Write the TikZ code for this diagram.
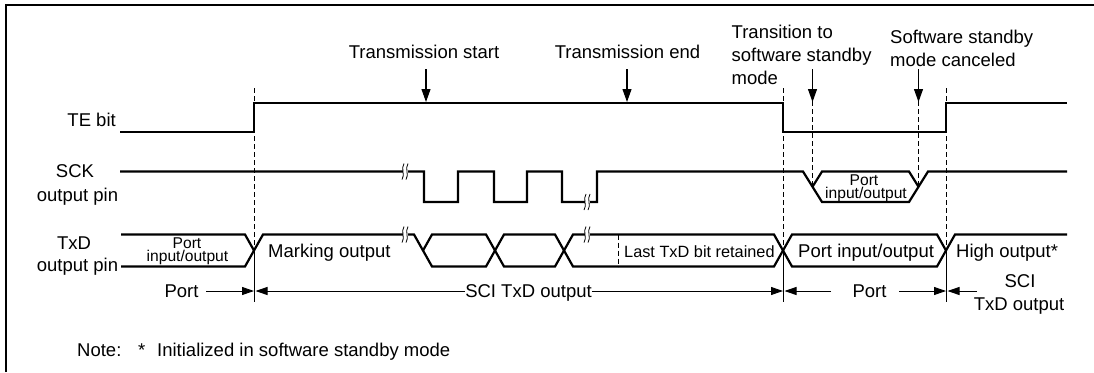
\documentclass[tikz,border=0pt]{standalone}
\usepackage{fontspec}
\setmainfont{Liberation Sans}
\usetikzlibrary{arrows.meta}
\newcommand\brkmark[2]{%
  \begin{scope}[shift={(#1,#2)}]
    \fill[white] (-2.5,-3) rectangle (2.5,3);
    \draw[line width=0.8pt] (-1,-8) .. controls (-4.5,-3) and (0.5,3) .. (-3,8);
    \draw[line width=0.8pt] (3,-8) .. controls (-0.5,-3) and (4.5,3) .. (1,8);
  \end{scope}}
\begin{document}
\begin{tikzpicture}[x=1pt,y=-1pt,
  wave/.style={line width=2.2pt, line join=miter},
  vdash/.style={line width=0.9pt, dash pattern=on 5pt off 3pt},
  vsolid/.style={line width=0.9pt},
  tarr/.style={line width=1.1pt, -{Triangle[length=13pt,width=9pt]}},
  barr/.style={line width=0.9pt, -{Triangle[length=12pt,width=8pt]}},
  big/.style={inner sep=0pt, font=\fontsize{18.5}{23}\selectfont},
  small/.style={inner sep=0pt, font=\fontsize{15.6}{12}\selectfont},
  mid/.style={inner sep=0pt, font=\fontsize{16.3}{20}\selectfont}]
\useasboundingbox (0,0) rectangle (1094,372);
% frame
\draw[line width=2pt] (6,372) -- (6,5) -- (1094,5);

% ---------- signal labels ----------
\node[big, anchor=base east] (te) at (116,126) {TE bit};
\node[big, anchor=base] (sck1) at (75,177) {SCK};
\node[big, anchor=base] (sck2) at (77.5,201) {output pin};
\node[big, anchor=base] (txd1) at (74,249) {TxD};
\node[big, anchor=base] (txd2) at (77.5,271) {output pin};

% ---------- TE bit ----------
\draw[wave] (120,132) -- (254,132) -- (254,103) -- (783,103) -- (783,132)
  -- (946,132) -- (946,103) -- (1067,103);

% ---------- SCK ----------
\draw[wave] (120,171.5) -- (424,171.5) -- (424,202) -- (458,202) -- (458,171.5)
  -- (494,171.5) -- (494,202) -- (527,202) -- (527,171.5) -- (562,171.5)
  -- (562,202) -- (597,202) -- (597,171.5) -- (803,171.5) -- (822,202)
  -- (909,202) -- (928,171.5) -- (1067,171.5);
\draw[wave] (812.5,186.75) -- (822,171.5) -- (909,171.5) -- (918.5,186.75);

% ---------- TxD ----------
\draw[wave] (121,266.5) -- (245,266.5) -- (263,234.5) -- (414,234.5) -- (432,266.5)
  -- (486,266.5) -- (504,234.5) -- (555,234.5) -- (573,266.5) -- (774,266.5)
  -- (792,234.5) -- (937,234.5) -- (946,250.5);
\draw[wave] (121,234.5) -- (245,234.5) -- (254,250.5);
\draw[wave] (423,250.5) -- (432,234.5) -- (486,234.5) -- (504,266.5) -- (555,266.5)
  -- (573,234.5) -- (774,234.5) -- (792,266.5) -- (937,266.5) -- (955,234.5)
  -- (1067,234.5);

% break marks
\brkmark{405}{171.5}
\brkmark{405}{234.5}
\brkmark{587}{202}
\brkmark{587}{234.5}

% ---------- vertical guide lines ----------
\coordinate (x1) at (254,250.5);
\coordinate (x2) at (783,250.5);
\coordinate (x3) at (946,250.5);
\coordinate (b1) at (254,302);
\coordinate (b2) at (783,302);
\coordinate (b3) at (946,302);
\draw[vdash] (254,88) -- (x1);
\draw[vdash] (783,88) -- (x2);
\draw[vdash] (946,88) -- (x3);
\draw[vsolid] (x1) -- (b1);
\draw[vsolid] (x2) -- (b2);
\draw[vsolid] (x3) -- (b3);
\draw[vdash] (812.5,101) -- (812.5,186.75);
\draw[vdash] (918.5,101) -- (918.5,186.75);
\draw[vdash] (618,234.5) -- (618,266.5);

% ---------- top event labels and arrows ----------
\node[big, anchor=base] (ts) at (424,58) {Transmission start};
\node[big, anchor=base] (tend) at (627.5,58) {Transmission end};
\node[big, anchor=base west] (tr1) at (731.5,38) {Transition to};
\node[big, anchor=base west] (tr2) at (731.5,61) {software standby};
\node[big, anchor=base west] (tr3) at (731.5,84) {mode};
\node[big, anchor=base west] (sc1) at (890,43) {Software standby};
\node[big, anchor=base west] (sc2) at (890,66) {mode canceled};
\coordinate (a1) at (426,102);
\coordinate (a2) at (627,102);
\coordinate (a3) at (812.5,102);
\coordinate (a4) at (918.5,102);
\draw[tarr] (426,69) -- (a1);
\draw[tarr] (627,69) -- (a2);
\draw[tarr] (812.5,69) -- (a3);
\draw[tarr] (918.5,69) -- (a4);

% ---------- texts inside waveforms ----------
\node[small, anchor=base] (pl1) at (187,248) {Port};
\node[small, anchor=base] (pl2) at (187.5,261.5) {input/output};
\node[big, anchor=base west] (mark) at (268,257) {Marking output};
\node[mid, anchor=base west] (last) at (624,257) {Last TxD bit retained};
\node[big, anchor=base west] (pio) at (798,257) {Port input/output};
\node[big, anchor=base west] (high) at (956,257) {High output*};
\node[small, anchor=base] (sp1) at (864,185) {Port};
\node[small, anchor=base] (sp2) at (866,198.5) {input/output};

% ---------- bottom spans ----------
\coordinate (r1) at (254,291);
\coordinate (r2) at (783,291);
\coordinate (r3) at (946,291);
\node[big, anchor=base] (port1) at (181.5,297) {Port};
\node[big, anchor=base] (sci) at (528.5,297) {SCI TxD output};
\node[big, anchor=base] (port2) at (869.5,297) {Port};
\node[big, anchor=base] (sci2a) at (1020,287) {SCI};
\node[big, anchor=base] (sci2b) at (1019,310) {TxD output};
\draw[barr] (206,291) -- (r1);
\draw[barr] (sci.west |- r1) -- (255.5,291);
\draw[barr] (sci.east |- r1) -- (r2);
\draw[barr] (831,291) -- (784.5,291);
\draw[barr] (899,291) -- (r3);
\draw[barr] (977,291) -- (947.5,291);

% ---------- note ----------
\node[big, anchor=base west] (note) at (77,356) {Note:};
\node[big, anchor=base west] (star) at (138,356) {*};
\node[big, anchor=base west] (notetxt) at (157,356) {Initialized in software standby mode};
\end{tikzpicture}
\end{document}
